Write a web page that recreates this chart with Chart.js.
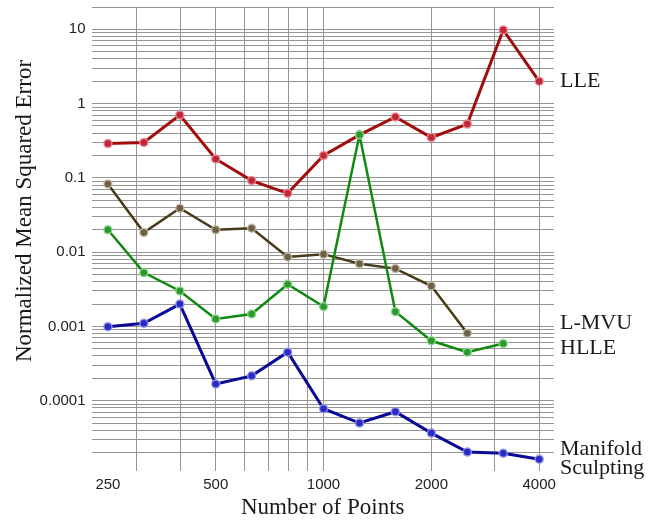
<!DOCTYPE html>
<html>
<head>
<meta charset="utf-8">
<script src="https://cdn.jsdelivr.net/npm/chart.js@4.4.1/dist/chart.umd.min.js"></script>
<style>
  html, body { margin: 0; padding: 0; background: #fff; }
  #wrap { width: 654px; height: 522px; }
</style>
</head>
<body>
<div id="wrap"><canvas id="grafico" width="654" height="522"></canvas></div>
<script>
// number of points (x values)
const puntos = [250, 315, 397, 500, 630, 794, 1000, 1260, 1587, 2000, 2520, 3175, 4000];

// normalized mean squared error per method
const lle = [0.29, 0.30, 0.70, 0.18, 0.092, 0.062, 0.20, 0.38, 0.66, 0.35, 0.53, 9.8, 2.0];
const lmvu = [0.083, 0.0184, 0.039, 0.020, 0.021, 0.0086, 0.0094, 0.0070, 0.0060, 0.0035, 0.00081];
const hlle = [0.020, 0.0053, 0.0030, 0.00126, 0.00147, 0.0037, 0.00185, 0.38, 0.00158, 0.00064, 0.00045, 0.00059];
const manifold = [0.00099, 0.0011, 0.0020, 0.000168, 0.000216, 0.00045, 0.000078, 0.000050, 0.000071, 0.0000366, 0.0000203, 0.0000196, 0.0000163];

// tick labels and grid positions
const xLabels = [250, 500, 1000, 2000, 4000];
const xGrid = [250, 300, 400, 500, 600, 700, 800, 900, 1000, 2000, 3000, 4000];
const yLabels = [10, 1, 0.1, 0.01, 0.001, 0.0001];
const yGrid = [];
for (const d of [0.00001, 0.0001, 0.001, 0.01, 0.1, 1, 10]) {
  for (let m = 1; m <= 9; m++) {
    const v = +(m * d).toPrecision(3);
    if (v >= 0.00002 && v <= 20) yGrid.push(v);
  }
}
yGrid.push(20);

// labels on the right side, anchored on a y value
const nombres = ['LLE', 'L-MVU', 'HLLE', 'Manifold|Sculpting'];
const anclas = [2.0, 0.00109, 0.000515, 0.0000225];

function pares(valores) {
  return valores.map((v, i) => ({ x: puntos[i], y: v }));
}

function serie(valores, linea, relleno, halo, ancho) {
  return {
    data: pares(valores),
    borderColor: linea,
    borderWidth: ancho,
    backgroundColor: relleno,
    pointBackgroundColor: relleno,
    pointBorderColor: halo,
    pointBorderWidth: 1.5,
    pointRadius: 4,
    tension: 0
  };
}

const etiquetas = {
  id: 'etiquetas',
  afterDraw(chart) {
    const ctx = chart.ctx;
    const y = chart.scales.y;
    const area = chart.chartArea;
    ctx.save();
    ctx.fillStyle = '#1a1a1a';
    ctx.font = '22px "Liberation Serif", "Times New Roman", serif';
    ctx.textAlign = 'left';
    ctx.textBaseline = 'middle';
    nombres.forEach((n, i) => {
      const py = y.getPixelForValue(anclas[i]);
      n.split('|').forEach((linea, j) => {
        ctx.fillText(linea, area.right + 6, py + j * 19.5);
      });
    });
    // y axis title
    ctx.font = '23px "Liberation Serif", "Times New Roman", serif';
    ctx.textAlign = 'center';
    ctx.translate(25, 211);
    ctx.rotate(-Math.PI / 2);
    ctx.fillText('Normalized Mean Squared Error', 0, 0);
    ctx.restore();
  }
};

const tickFont = { family: '"Liberation Sans", Arial, sans-serif', size: 15 };

new Chart(document.getElementById('grafico').getContext('2d'), {
  type: 'line',
  data: {
    datasets: [
      serie(hlle, '#0e8a0e', '#2a9a2a', 'rgba(150,215,150,0.9)', 2.5),
      serie(lle, '#a30c0c', '#c0283a', 'rgba(235,140,150,0.9)', 3),
      serie(lmvu, '#4a3a1a', '#6e6048', 'rgba(200,188,165,0.9)', 2.5),
      serie(manifold, '#0a0a96', '#2a2ac4', 'rgba(150,150,235,0.9)', 3)
    ]
  },
  options: {
    responsive: false,
    animation: false,
    layout: { padding: { top: 7, right: 100, bottom: 0, left: 0 } },
    plugins: {
      legend: { display: false },
      tooltip: { enabled: false }
    },
    scales: {
      x: {
        type: 'logarithmic',
        min: 225,
        max: 4400,
        afterBuildTicks: (s) => { s.ticks = xGrid.map(v => ({ value: v })); },
        afterFit: (s) => { s.height = 51; },
        border: { display: false },
        grid: {
          drawTicks: false,
          color: (c) => c.tick && c.tick.value === 250 ? 'rgba(0,0,0,0)' : '#959595',
          lineWidth: 1
        },
        ticks: {
          autoSkip: false,
          maxRotation: 0,
          padding: 5,
          color: '#222',
          font: tickFont,
          callback: (v) => xLabels.includes(v) ? String(v) : ''
        },
        title: {
          display: true,
          text: 'Number of Points',
          color: '#1a1a1a',
          font: { family: '"Liberation Serif", "Times New Roman", serif', size: 23 },
          padding: { top: 0, bottom: 0 }
        }
      },
      y: {
        type: 'logarithmic',
        min: 0.0000113,
        max: 20,
        afterBuildTicks: (s) => { s.ticks = yGrid.map(v => ({ value: v })); },
        afterFit: (s) => { s.width = 91.5; s.paddingTop = 0; },
        border: { display: false },
        grid: {
          drawTicks: false,
          color: '#959595',
          lineWidth: 1
        },
        ticks: {
          autoSkip: false,
          padding: 6,
          color: '#222',
          font: tickFont,
          callback: (v) => yLabels.includes(v) ? String(v) : ''
        }
      }
    }
  },
  plugins: [etiquetas]
});
</script>
</body>
</html>
